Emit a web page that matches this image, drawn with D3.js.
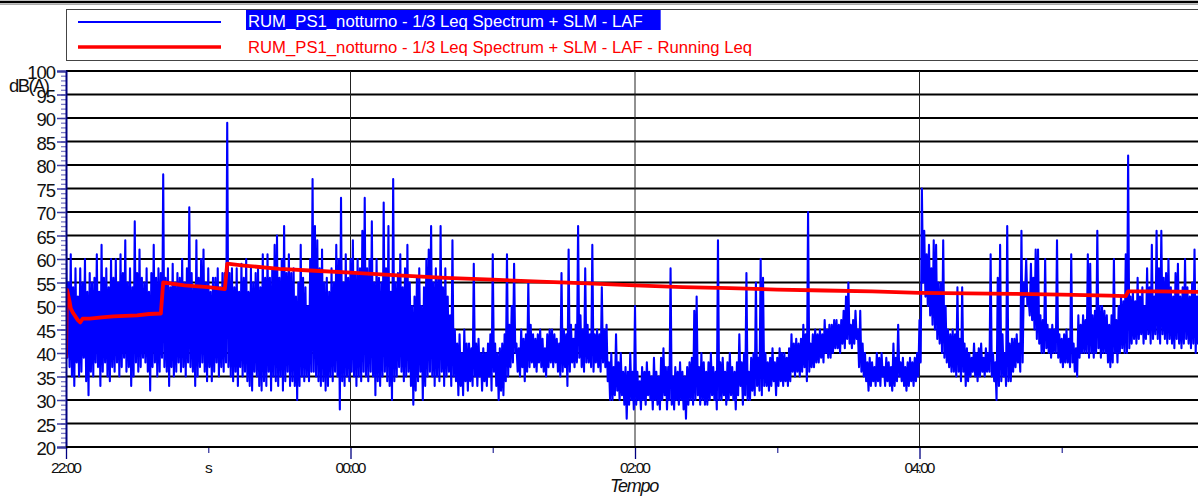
<!DOCTYPE html>
<html><head><meta charset="utf-8">
<script src="https://cdn.jsdelivr.net/npm/d3@7"></script>
<style>
body{margin:0;background:#fff;}
svg{display:block;font-family:"Liberation Sans",Arial,sans-serif;}
</style>
</head><body>
<svg id="c" width="1198" height="499"></svg>
<script>
// ---- DATA ----
// LAF level per minute from 22:00: highest and lowest value reached within each minute
const lafStepMinutes = 1;
const lafMax = [
  // 22:00 - 23:34
  64,55,61,54,58,52,58,55,60,53,
  57,55,56,61,53,63,56,58,54,60,
  56,60,55,61,57,64,55,58,54,68,
  57,62,56,55,58,53,57,63,56,58,
  57,78,56,58,54,59,55,57,56,60,
  55,58,71,57,54,64,56,60,62,55,
  58,53,56,56,58,54,57,57,89,57,
  58,54,58,53,59,56,60,53,58,55,
  57,58,54,61,56,61,56,58,63,65,
  56,60,67,57,61,
  // 23:35 - 01:09
  57,58,52,55,63,
  56,54,50,60,77,
  67,64,58,62,55,56,53,58,55,63,
  60,73,55,61,56,60,64,57,60,58,
  66,73,58,60,68,55,60,56,55,72,
  58,67,53,77,55,57,61,54,58,63,
  55,50,52,56,58,50,54,60,62,67,
  55,58,56,67,54,58,52,48,64,45,
  42,44,40,45,42,42,41,59,42,43,
  40,41,40,42,44,61,42,40,41,42,
  44,61,46,50,59,
  // 01:10 - 02:44
  42,41,45,43,44,55,46,44,43,44,
  45,43,41,44,45,45,44,43,42,57,
  45,44,62,46,43,46,67,48,45,58,
  46,44,63,44,45,44,54,45,46,38,
  40,37,44,38,40,36,37,36,40,36,
  50,36,34,37,36,38,36,35,39,36,
  35,39,41,37,37,58,35,37,36,38,
  36,35,37,38,39,49,52,37,40,38,
  36,38,40,37,36,64,38,39,36,38,
  40,37,36,38,44,
  // 02:45 - 04:19
  38,40,57,36,39,40,55,39,60,56,
  40,38,39,41,38,39,41,40,40,39,
  41,44,42,43,42,43,46,44,70,42,
  44,45,44,45,44,47,45,46,46,47,
  47,46,47,49,52,55,46,47,49,45,
  49,42,40,38,39,38,37,40,39,40,
  37,39,38,37,42,39,46,38,39,37,
  38,39,38,39,40,47,75,66,61,63,
  58,64,63,55,55,64,50,45,44,45,
  44,54,43,54,42,
  // 04:20 - 05:59
  41,40,39,42,40,41,42,39,41,40,
  61,40,38,56,63,44,40,67,42,43,
  43,44,42,66,55,60,52,59,56,62,
  62,48,47,60,46,45,46,45,64,44,
  43,44,45,43,61,42,41,48,46,48,
  47,61,59,48,49,66,50,50,49,48,
  46,48,60,47,50,52,51,61,82,52,
  53,51,56,52,54,50,58,54,63,52,
  66,58,66,56,57,60,54,52,57,59,
  52,54,60,54,52,55,62,52,58,54
];
const lafMin = [
  // 22:00 - 23:34
  39,37,35,33,38,35,36,39,34,31,
  36,35,38,37,33,36,38,35,34,37,
  36,38,35,37,39,36,37,33,35,38,
  36,37,39,38,36,32,37,38,35,36,
  39,37,36,33,37,35,36,38,36,37,
  35,38,37,36,33,35,37,38,36,34,
  37,34,36,38,35,37,36,38,37,35,
  34,36,33,37,35,36,34,33,32,36,
  35,33,32,34,33,36,32,35,34,33,
  35,32,34,36,33,
  // 23:35 - 01:09
  34,33,30,33,35,
  34,35,34,36,36,
  35,34,33,34,32,33,35,34,36,35,
  28,34,33,35,34,36,35,33,35,34,
  36,35,34,36,35,31,34,33,35,36,
  34,33,30,34,35,37,36,34,35,36,
  33,29,32,34,36,30,33,35,36,35,
  33,35,34,36,33,35,36,33,35,34,
  31,33,31,34,32,34,33,35,33,35,
  32,34,33,35,32,36,33,30,32,31,
  34,35,37,38,40,
  // 01:10 - 02:44
  36,35,37,34,36,37,38,37,36,38,
  37,36,35,37,38,37,38,36,35,36,
  37,33,36,38,37,38,39,37,36,38,
  38,37,36,38,37,36,38,37,34,30,
  30,31,32,30,31,29,26,29,30,28,
  29,30,28,30,29,31,30,28,30,29,
  28,30,31,28,30,29,28,30,29,30,
  28,26,29,30,29,30,31,29,30,29,
  29,30,31,30,28,30,30,31,29,30,
  31,30,28,31,33,
  // 02:45 - 04:19
  29,31,30,30,32,31,33,32,31,33,
  33,32,33,34,31,33,34,33,34,33,
  34,36,35,36,35,36,37,34,36,37,
  37,38,38,39,38,40,39,39,40,41,
  41,40,42,41,43,42,41,42,43,37,
  36,35,34,32,33,34,33,34,33,35,
  33,34,33,32,33,34,35,34,33,32,
  33,34,33,34,35,38,55,52,50,48,
  46,45,43,42,40,39,38,37,36,36,
  35,36,34,36,33,
  // 04:20 - 05:59
  34,35,36,35,34,35,36,35,36,36,
  35,34,30,33,34,35,33,34,34,36,
  37,38,36,38,52,50,48,47,45,43,
  42,40,40,41,40,39,40,40,39,38,
  37,38,38,37,38,36,35,39,40,40,
  40,39,40,39,40,41,39,40,40,38,
  37,38,40,38,40,41,40,40,41,42,
  43,42,43,44,42,43,44,42,43,44,
  43,42,44,43,42,43,42,41,43,42,
  41,42,43,42,41,42,40,42,41,42
];
// Running Leq (minutes after 22:00, dB)
const leqTimes  = [0, 0.4, 1.5, 2, 3, 5, 6, 7, 10, 15, 20, 30, 35, 40, 41, 50, 60, 67, 68, 75, 90, 105, 120, 140, 160, 180, 200, 220, 240, 260, 280, 300, 320, 340, 360, 380, 400, 420, 440, 447, 448, 460, 479];
const leqValues = [39, 53.5, 51, 49.5, 48.5, 47, 46.5, 47.3, 47.3, 47.6, 47.8, 48, 48.3, 48.4, 55, 54.4, 54, 53.6, 59, 58.6, 57.9, 57.5, 57.1, 56.5, 56, 55.6, 55.2, 54.8, 54.4, 54, 53.8, 53.5, 53.3, 53.1, 52.8, 52.7, 52.6, 52.4, 52.2, 52.1, 53.1, 53.1, 53];

const yTickValues = [20,25,30,35,40,45,50,55,60,65,70,75,80,85,90,95,100];
const yMinorValues = d3.range(20, 101, 1);
const hourTicks  = [0, 60, 120, 180, 240, 300, 360, 420];
const hourLabels = ["22:00", "s", "00:00", "", "02:00", "", "04:00", ""];
const gridHours  = [120, 240, 360];
const legendLabels = ["RUM_PS1_notturno - 1/3 Leq Spectrum + SLM - LAF",
                      "RUM_PS1_notturno - 1/3 Leq Spectrum + SLM - LAF - Running Leq"];
const yUnit = "dB(A)";
const xTitle = "Tempo";

// ---- DRAW ----
const svg = d3.select("#c");
const W = 1198, H = 499;
const pLeft = 66, pTop = 71, pBottom = 447;
const x = d3.scaleLinear().domain([0, 480]).range([pLeft, 1204]);
const y = d3.scaleLinear().domain([20, 100]).range([pBottom, pTop]);

svg.append("rect").attr("width", W).attr("height", H).attr("fill", "#fff");

// top rule
svg.append("line").attr("x1", 0).attr("x2", W).attr("y1", 2).attr("y2", 2)
   .attr("stroke", "#000").attr("stroke-width", 2.5);
svg.append("line").attr("x1", 0).attr("x2", W).attr("y1", 4.5).attr("y2", 4.5)
   .attr("stroke", "#aaa").attr("stroke-width", 1);

// legend
const lg = svg.append("g");
lg.append("rect").attr("x", 66.5).attr("y", 9.5).attr("width", 1150).attr("height", 51)
  .attr("fill", "#fff").attr("stroke", "#444").attr("stroke-width", 1);
lg.append("line").attr("x1", 78).attr("x2", 221).attr("y1", 22).attr("y2", 22)
  .attr("stroke", "#0000ff").attr("stroke-width", 2);
lg.append("line").attr("x1", 78).attr("x2", 221).attr("y1", 47).attr("y2", 47)
  .attr("stroke", "#ff0000").attr("stroke-width", 3.5);
const hl = lg.append("rect").attr("x", 246).attr("y", 10).attr("height", 20).attr("fill", "#0000ff");
const t1 = lg.append("text").attr("x", 248).attr("y", 27).attr("font-size", 16.7)
  .attr("fill", "#fff").text(legendLabels[0]);
hl.attr("width", t1.node().getComputedTextLength() + 20);
lg.append("text").attr("x", 248).attr("y", 53).attr("font-size", 16.7)
  .attr("fill", "#ff0000").text(legendLabels[1]);

// horizontal grid
svg.append("g").selectAll("line").data(yTickValues).join("line")
  .attr("x1", pLeft).attr("x2", W).attr("y1", d => y(d)).attr("y2", d => y(d))
  .attr("stroke", "#000").attr("stroke-width", 2);
// vertical grid
svg.append("g").selectAll("line").data(gridHours).join("line")
  .attr("x1", d => x(d)).attr("x2", d => x(d)).attr("y1", pTop).attr("y2", pBottom)
  .attr("stroke", "#222").attr("stroke-width", 1);

// clip
svg.append("clipPath").attr("id", "clip").append("rect")
  .attr("x", pLeft).attr("y", pTop - 2).attr("width", W - pLeft).attr("height", pBottom - pTop + 4);

// LAF trace: within each minute the level goes to its max then its min
const lafPoints = [];
lafMax.forEach((v, i) => {
  lafPoints.push([i * lafStepMinutes, v]);
  lafPoints.push([(i + 0.5) * lafStepMinutes, lafMin[i]]);
});

const plot = svg.append("g").attr("clip-path", "url(#clip)");
plot.append("path").datum(lafPoints)
  .attr("fill", "none").attr("stroke", "#0000ff").attr("stroke-width", 2.1)
  .attr("stroke-linejoin", "round")
  .attr("d", d3.line().x(d => x(d[0])).y(d => y(d[1])));
plot.append("path").datum(leqTimes.map((t, i) => [t, leqValues[i]]))
  .attr("fill", "none").attr("stroke", "#ff0000").attr("stroke-width", 3.8)
  .attr("stroke-linejoin", "round")
  .attr("d", d3.line().x(d => x(d[0])).y(d => y(d[1])));

// y axis minor ticks
const yMinor = svg.append("g").attr("transform", `translate(${pLeft},0)`)
  .call(d3.axisLeft(y).tickValues(yMinorValues).tickSize(5).tickFormat(""));
yMinor.select(".domain").remove();
yMinor.selectAll(".tick line").attr("stroke", "#7b7bc4").attr("stroke-width", 1.3);
// y axis major
const yAx = svg.append("g").attr("transform", `translate(${pLeft},0)`)
  .call(d3.axisLeft(y).tickValues(yTickValues).tickSize(9).tickPadding(2));
yAx.select(".domain").attr("stroke", "#000080").attr("stroke-width", 2);
yAx.selectAll(".tick line").attr("stroke", "#3a3aa0").attr("stroke-width", 1.5);
yAx.selectAll(".tick text").attr("font-size", 18.5).attr("fill", "#111")
  .attr("font-family", "Liberation Sans, Arial, sans-serif")
  .attr("letter-spacing", "-1").attr("dy", "0.42em");

// x axis
const xAx = svg.append("g").attr("transform", `translate(0,${pBottom})`)
  .call(d3.axisBottom(x).tickValues(hourTicks).tickFormat((d, i) => hourLabels[i]).tickSize(0));
xAx.select(".domain").remove();
xAx.selectAll(".tick line")
  .attr("y2", (d, i) => i % 2 === 0 ? 12 : 6)
  .attr("stroke", (d, i) => i % 2 === 0 ? "#000080" : "#3a3aa0").attr("stroke-width", 1.3);
xAx.selectAll(".tick text").attr("font-size", 15.5).attr("fill", "#111")
  .attr("font-family", "Liberation Sans, Arial, sans-serif")
  .attr("letter-spacing", "-2").attr("y", 15).attr("dy", "0.71em").attr("dx", -1);

// bottom frame line (20 dB) redraw over ticks
svg.append("line").attr("x1", pLeft).attr("x2", W).attr("y1", pBottom).attr("y2", pBottom)
  .attr("stroke", "#000").attr("stroke-width", 2);

// unit label
svg.append("text").attr("x", 9).attr("y", 92).attr("font-size", 18.5).attr("fill", "#111")
  .attr("letter-spacing", "-1.6").text(yUnit);
// x title
svg.append("text").attr("x", 634).attr("y", 492).attr("text-anchor", "middle")
  .attr("font-size", 18).attr("font-style", "italic").attr("fill", "#111")
  .attr("letter-spacing", "-1.3").text(xTitle);
</script>
</body></html>
